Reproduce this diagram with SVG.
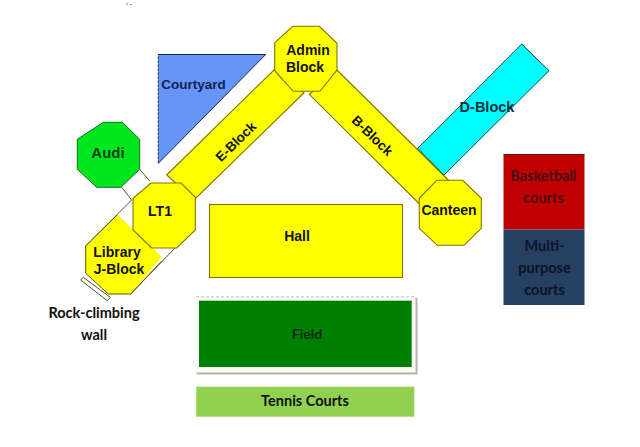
<svg xmlns="http://www.w3.org/2000/svg" width="640" height="447" viewBox="0 0 640 447">
  <style>
    .bld { fill: #ffff00; stroke: #7f7400; stroke-width: 1.1; stroke-linejoin: miter; }
    .edge { fill: none; stroke: #57571f; stroke-width: 1; }
    .a { font-family: "Liberation Sans", Arial, sans-serif; font-weight: bold; fill: #12120a; text-anchor: middle; }
    .c { font-family: "Lato", "Open Sans", sans-serif; font-weight: bold; fill: #101010; text-anchor: middle; }
  </style>
  <rect width="640" height="447" fill="#ffffff"/>
  <path d="M126 4h2M130 4.500h1.500" stroke="#777777" stroke-width="1" fill="none"/>

  <g id="courtyard">
    <polygon points="158.300,54.500 265.700,54.500 158.300,163.300" fill="#6795f5"/>
    <path d="M158.300 163.300V54.500" fill="none" stroke="#12265a" stroke-width="1" stroke-dasharray="3 1"/>
    <path d="M158.300 54.500H265.700L158.300 163.300" fill="none" stroke="#12265a" stroke-width="1"/>
    <text class="a" x="193.500" y="89" font-size="13.500" style="fill:#0f1f55">Courtyard</text>
  </g>

  <g id="d-block">
    <polygon points="521.700,44 549,70.700 444,175 417.700,148.300" fill="#00ffff" stroke="#0b4b50" stroke-width="1"/>
    <text class="a" x="487" y="112" font-size="14.500" style="fill:#0c3040">D-Block</text>
  </g>

  <g id="e-block">
    <polygon class="bld" points="166.700,175 274.700,69.300 304,92.700 194,200"/>
    <text class="a" transform="translate(239 145) rotate(-44)" font-size="13.500">E-Block</text>
  </g>

  <g id="b-block">
    <polygon class="bld" points="337,70 448.300,180 420,204.500 309.300,94.300"/>
    <text class="a" transform="translate(369 139) rotate(44)" font-size="13.500">B-Block</text>
  </g>

  <g id="connectors">
    <path class="edge" d="M139.700 169.300L149.700 181M121.700 187.300L131.700 200L85.700 246M175 248L130.700 294"/>
  </g>

  <g id="rock-climbing-wall">
    <polygon points="83.300,277.300 80.700,280 107.300,300.700 110.300,297.300" fill="#ffffff" stroke="#55552a" stroke-width="1"/>
    <text class="c" x="94" y="318" font-size="14.500">Rock-climbing</text>
    <text class="c" x="94" y="340" font-size="14.500">wall</text>
  </g>

  <g id="library">
    <polygon points="117.500,214.500 161.700,256.700 130.700,294 108.300,294 85.700,273.300 85.700,246" fill="#ffff00"/>
    <path class="edge" d="M117.500 214.500L85.700 246V273.300L108.300 294H130.700L161.700 261"/>
    <text class="a" x="117" y="257" font-size="14">Library</text>
    <text class="a" x="119" y="274" font-size="14">J-Block</text>
  </g>

  <g id="audi">
    <polygon points="103.300,122.300 122.300,122.300 139.700,139.300 139.700,169.300 121,187.300 96.700,187.300 77.300,169.300 77.300,139.300" fill="#00e61e" stroke="#1c6a1c" stroke-width="1"/>
    <text class="a" x="108" y="158" font-size="15" style="fill:#0a3a10">Audi</text>
  </g>

  <g id="lt1">
    <polygon class="bld" points="151,183 181,183 195.300,197.300 195.300,230 176.700,248 151.700,248 133,230 133,198.300"/>
    <text class="a" x="160" y="216" font-size="14">LT1</text>
  </g>

  <g id="admin-block">
    <polygon class="bld" points="292.700,26.300 319.300,26.300 337,43.300 337,70 320,91.300 293.300,91.300 274.700,70.700 274.700,42.700"/>
    <text class="a" x="308" y="55" font-size="14">Admin</text>
    <text class="a" x="305" y="72" font-size="14">Block</text>
  </g>

  <g id="canteen">
    <polygon class="bld" points="436.700,180.300 462.700,180.300 481.300,198.300 481.300,228.300 464,245.300 437.300,245.300 419.300,228.300 419.300,198.300"/>
    <text class="a" x="449" y="215" font-size="14">Canteen</text>
  </g>

  <g id="hall">
    <rect class="bld" x="209.500" y="204.500" width="193" height="73"/>
    <text class="a" x="297" y="241" font-size="14">Hall</text>
  </g>

  <g id="basketball">
    <rect x="503.500" y="154.500" width="81" height="75" fill="#c00000"/>
    <path d="M503.500 154.500H584.500" stroke="#6e0a0a" stroke-width="1"/>
    <text class="c" x="543.500" y="181" font-size="14.500" style="fill:#4a0a14">Basketball</text>
    <text class="c" x="543.500" y="202.500" font-size="14.500" style="fill:#4a0a14">courts</text>
  </g>

  <g id="multi-purpose">
    <rect x="503.500" y="229.500" width="81" height="75.500" fill="#254061"/>
    <text class="c" x="544.500" y="251" font-size="14.500" style="fill:#0c1228">Multi-</text>
    <text class="c" x="544.500" y="273" font-size="14.500" style="fill:#0c1228">purpose</text>
    <text class="c" x="544.500" y="294.500" font-size="14.500" style="fill:#0c1228">courts</text>
  </g>

  <g id="field">
    <rect x="196" y="297" width="220" height="76" fill="#fbfbf8"/>
    <path d="M196.500 373.500H416.500V298" fill="none" stroke="#b5b5a5" stroke-width="2"/>
    <path d="M196 296.800H416" fill="none" stroke="#c8c0c0" stroke-width="1" stroke-dasharray="3 2"/>
    <rect x="199" y="300.700" width="212.700" height="66.300" fill="#008000"/>
    <text class="c" x="307" y="339" font-size="14" style="fill:#06280a">Field</text>
  </g>

  <g id="tennis-courts">
    <rect x="196.300" y="386.700" width="218" height="30" fill="#92d050"/>
    <text class="c" x="305" y="406" font-size="14.500">Tennis Courts</text>
  </g>
</svg>
